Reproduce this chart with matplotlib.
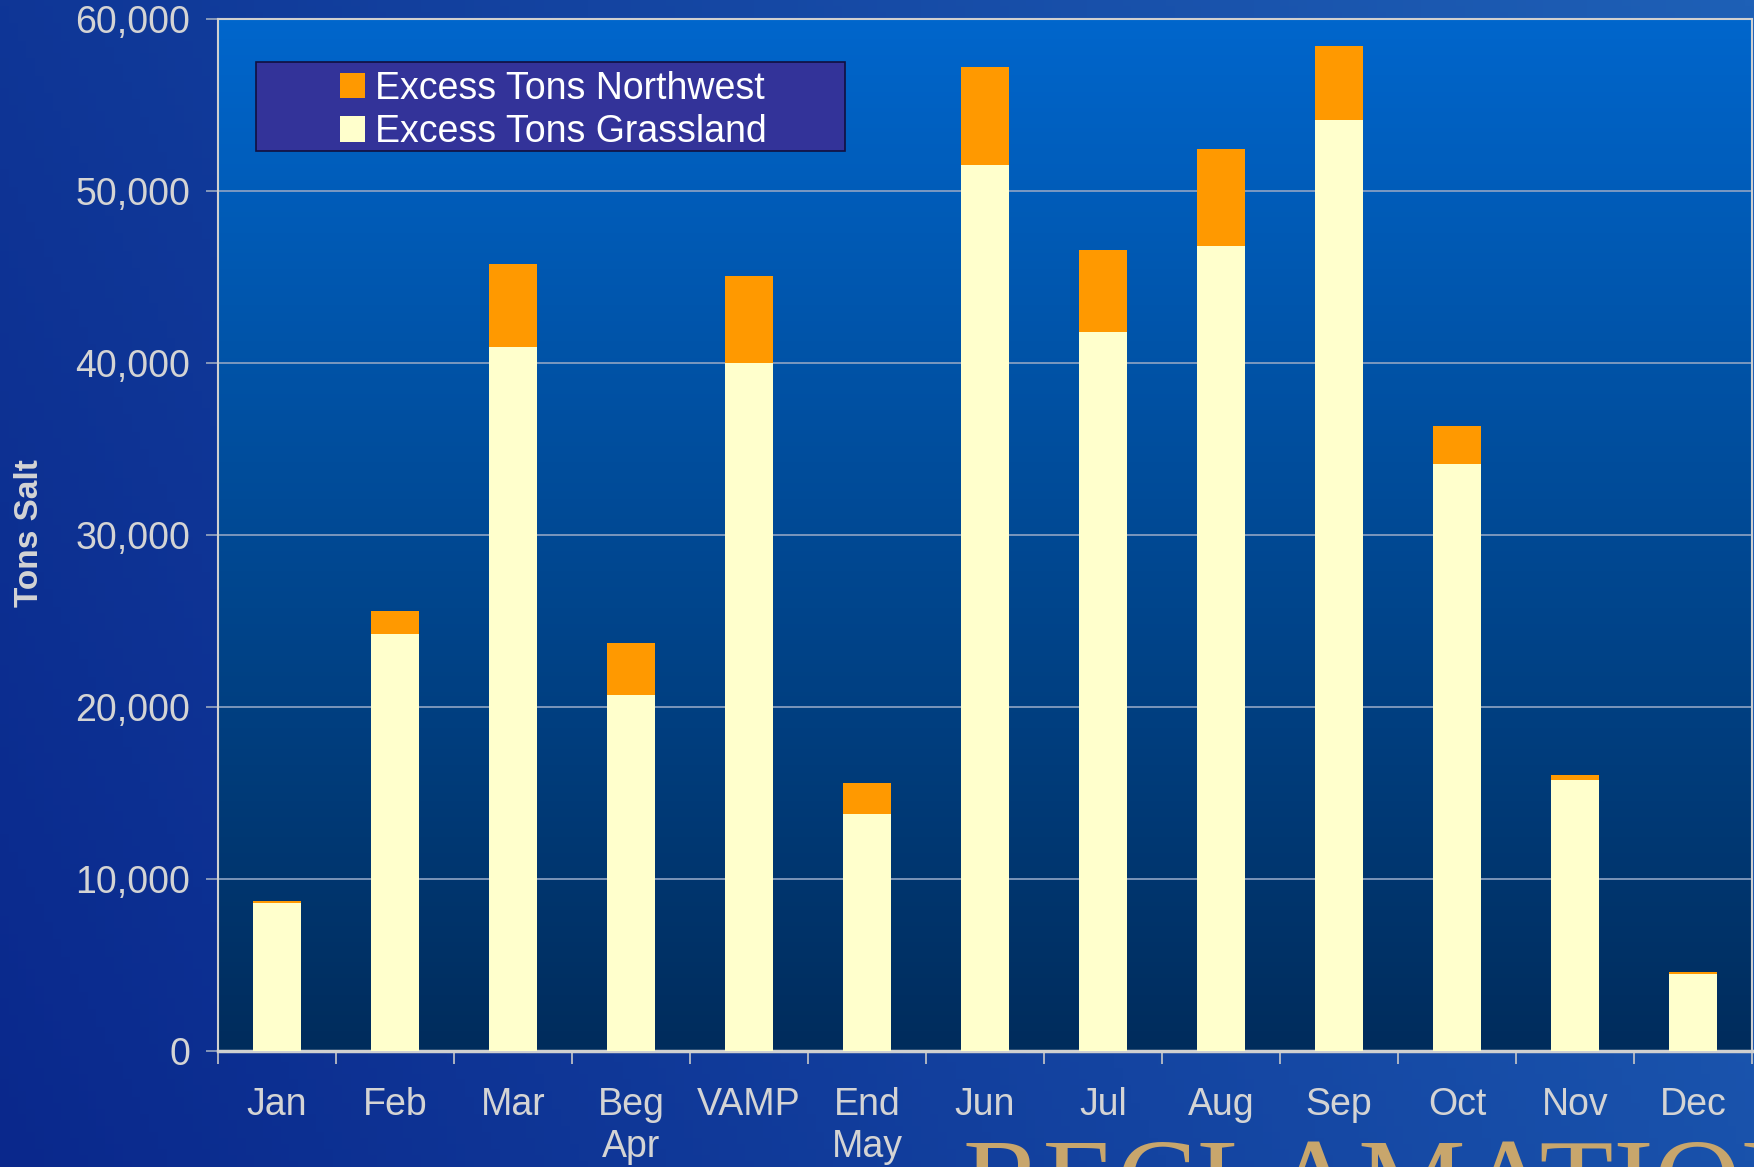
import numpy as np
import matplotlib.pyplot as plt
from matplotlib.patches import Patch, Rectangle

plt.rcParams['font.family']=['Liberation Sans','DejaVu Sans']

# ................................................................ data
months=['Jan','Feb','Mar','Beg\nApr','VAMP','End\nMay','Jun','Jul','Aug','Sep','Oct','Nov','Dec']
grassland=[8600,24250,40950,20680,40000,13780,51500,41800,46800,54150,34130,15750,4480]
northwest=[150,1350,4800,3050,5050,1820,5700,4750,5650,4300,2220,300,120]
yticks=[0,10000,20000,30000,40000,50000,60000]

c_grass='#FFFFCC'
c_nw='#FF9900'
c_text='#D4D4D4'

fig=plt.figure(figsize=(17.54,11.67),dpi=100)

# ....................................................... background
bg=fig.add_axes([0,0,1,1],zorder=-10)
bg.set_axis_off()
gx=np.linspace(0,1,200)[None,:]
gy=np.linspace(0,1,200)[:,None]
c0=np.array([10,40,140])/255.
c1=np.array([30,96,182])/255.
t=np.clip(0.75*gx+0.25*(1-gy),0,1)
img=c0[None,None,:]*(1-t[...,None])+c1[None,None,:]*t[...,None]
bg.imshow(img,extent=[0,1,0,1],aspect='auto',origin='upper')
bg.set_xlim(0,1)
bg.set_ylim(0,1)

ax=fig.add_axes([218/1754,116/1167,1534/1754,1032/1167])
# vertical gradient inside plot area
top=np.array([0,102,204])/255.
bot=np.array([0,44,92])/255.
v=np.linspace(0,1,256)[:,None]
grad=top[None,None,:]*(1-v[...,None])+bot[None,None,:]*v[...,None]
grad=np.repeat(grad,2,axis=1)
ax.imshow(grad,extent=[0,1,0,1],transform=ax.transAxes,aspect='auto',zorder=0)

x=np.arange(len(months))
ax.bar(x,grassland,width=0.4,color=c_grass,zorder=3)
ax.bar(x,northwest,width=0.4,bottom=grassland,color=c_nw,zorder=3)

ax.set_xlim(-0.5,len(months)-0.5)
ax.set_ylim(0,60000)
ax.set_yticks(yticks)
ax.set_yticklabels(['{:,}'.format(v) for v in yticks])
ax.yaxis.grid(True,color='#8FA4C4',linewidth=1.2)
for gl in ax.get_ygridlines():
  gl.set_zorder(1)

ax.set_xticks(x)
ax.set_xticklabels(months)
ax.set_xticks(np.arange(-0.5,len(months)),minor=True)
ax.tick_params(axis='x',which='major',length=0,pad=26,labelsize=27,colors=c_text)
ax.tick_params(axis='x',which='minor',length=9.5,width=1.2,color='#C8C8C8',direction='out')
ax.tick_params(axis='y',length=9,width=1.2,color='#9AA8C0',labelsize=27,labelcolor=c_text,pad=11)
for lab in ax.get_xticklabels():
  lab.set_linespacing(1.2)

for s in ['left','bottom','top','right']:
  ax.spines[s].set_color('#D0D0D0')
  ax.spines[s].set_linewidth(1.5)
ax.spines['bottom'].set_linewidth(2.5)

fig.text(30/1754,0.543,'Tons Salt',rotation=90,ha='center',va='center',
         fontsize=24,fontweight='bold',color=c_text)

# legend box drawn separately so it can be wider than its entries
ax.add_patch(Rectangle((0.0248,0.8722),0.3837,0.0866,transform=ax.transAxes,
                       facecolor='#333399',edgecolor='#101040',linewidth=1.2,zorder=4))
handles=[Patch(facecolor=c_nw,edgecolor='none',label='Excess Tons Northwest'),
         Patch(facecolor=c_grass,edgecolor='none',label='Excess Tons Grassland')]
leg=ax.legend(handles=handles,loc='upper left',bbox_to_anchor=(0.0795,0.950),
              fontsize=27,frameon=False,handlelength=0.66,handleheight=0.66,
              handletextpad=0.27,borderpad=0,labelspacing=0.2,borderaxespad=0)
for txt in leg.get_texts():
  txt.set_color('white')
leg.set_zorder(5)

fig.text(962/1754,-0.047,'RECLAMATION',fontsize=87,family='Liberation Serif',
         color='#C8A66C',va='baseline',ha='left')

fig.savefig('out.png',dpi=100)
